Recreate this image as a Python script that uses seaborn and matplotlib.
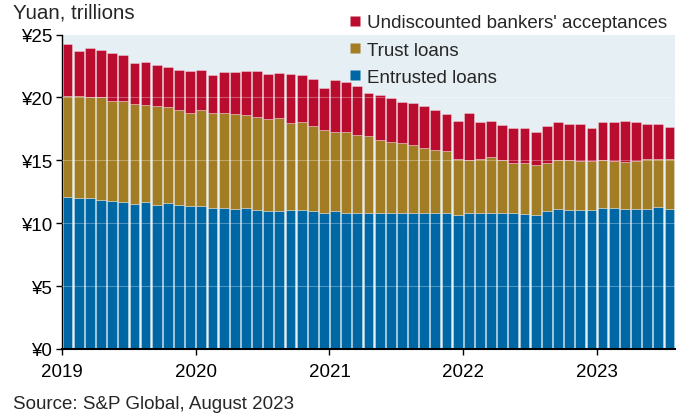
import numpy as np
import pandas as pd
import matplotlib
matplotlib.use("Agg")
import matplotlib.pyplot as plt
from matplotlib.lines import Line2D
import seaborn as sns

# ---- data (trillions of yuan), monthly Jan 2019 - Jul 2023 ----
entrusted = [12.12, 12.04, 12.03, 11.88, 11.80, 11.72, 11.56, 11.72, 11.48, 11.61, 11.43, 11.35,
             11.33, 11.24, 11.22, 11.11, 11.22, 11.06, 10.95, 10.95, 11.06, 11.06, 10.95, 10.79,
             10.95, 10.79, 10.79, 10.85, 10.85, 10.85, 10.85, 10.85, 10.85, 10.85, 10.85, 10.66,
             10.85, 10.85, 10.85, 10.82, 10.82, 10.77, 10.66, 10.98, 11.16, 11.08, 11.08, 11.08,
             11.24, 11.24, 11.16, 11.16, 11.16, 11.32, 11.16]
trust = [7.99, 8.07, 8.00, 8.12, 7.91, 7.99, 7.88, 7.65, 7.81, 7.60, 7.56, 7.41,
         7.64, 7.52, 7.54, 7.54, 7.38, 7.38, 7.33, 7.38, 6.90, 6.96, 6.75, 6.62,
         6.27, 6.43, 6.26, 6.08, 5.76, 5.63, 5.55, 5.37, 5.16, 5.00, 4.92, 4.47,
         4.18, 4.28, 4.39, 4.18, 3.99, 4.04, 4.00, 3.83, 3.89, 3.97, 3.89, 3.89,
         3.81, 3.73, 3.71, 3.81, 3.97, 3.81, 3.97]
undiscounted = [4.15, 3.59, 3.91, 3.78, 3.83, 3.67, 3.31, 3.46, 3.25, 3.22, 3.20, 3.35,
                3.22, 3.06, 3.28, 3.39, 3.52, 3.68, 3.60, 3.63, 3.92, 3.78, 3.78, 3.36,
                4.18, 4.02, 3.83, 3.39, 3.55, 3.44, 3.20, 3.30, 3.28, 3.12, 2.91, 2.99,
                3.73, 2.91, 2.88, 2.80, 2.75, 2.75, 2.59, 2.91, 2.97, 2.83, 2.91, 2.57,
                2.99, 3.07, 3.28, 3.05, 2.73, 2.73, 2.49]
series_names = ["Undiscounted bankers' acceptances", "Trust loans", "Entrusted loans"]
year_labels = ["2019", "2020", "2021", "2022", "2023"]
y_ticks = [0, 5, 10, 15, 20, 25]
y_labels = ["¥0", "¥5", "¥10", "¥15", "¥20", "¥25"]

colors = {"Undiscounted bankers' acceptances": "#BA0C2F",
          "Trust loans": "#A27D24",
          "Entrusted loans": "#0067A5"}

n = len(entrusted)
months = np.arange(n)
df = pd.concat([
    pd.DataFrame({"month": months, "series": series_names[0], "value": undiscounted}),
    pd.DataFrame({"month": months, "series": series_names[1], "value": trust}),
    pd.DataFrame({"month": months, "series": series_names[2], "value": entrusted}),
], ignore_index=True)

sns.set_theme(style="ticks")
plt.rcParams["font.family"] = ["Liberation Sans", "DejaVu Sans"]

fig = plt.figure(figsize=(6.79, 4.14), dpi=100)
ax = fig.add_axes([62 / 679, 1 - 350 / 414, (675 - 62) / 679, (350 - 35.5) / 414])
ax.set_facecolor("#E6EFF3")

sns.histplot(data=df, x="month", weights="value", hue="series", hue_order=series_names,
             multiple="stack", discrete=True, shrink=0.88, palette=colors,
             edgecolor="white", linewidth=0.5, alpha=1, legend=False, ax=ax)
for p in ax.patches:
    p.set_alpha(None)
    p.set_edgecolor((1, 1, 1, 0.45))

for yv in [5, 10, 15, 20]:
    ax.axhline(yv, color="white", alpha=0.3, lw=0.8, zorder=5)

ax.set_xlim(-0.5, n - 0.5)
ax.set_ylim(0, 25)
ax.set_xticks([-0.5 + 12 * i for i in range(len(year_labels))])
ax.set_xticklabels(year_labels, fontsize=13.5)
ax.set_yticks(y_ticks)
ax.set_yticklabels(y_labels, fontsize=13.5)
ax.set_xlabel("")
ax.set_ylabel("")
ax.tick_params(axis="both", direction="out", length=4, width=1, color="black",
               labelcolor="black")
ax.tick_params(axis="y", pad=3)
ax.tick_params(axis="x", pad=6)
for s in ["top", "right"]:
    ax.spines[s].set_visible(False)
for s in ["left", "bottom"]:
    ax.spines[s].set_color("black")
ax.spines["left"].set_linewidth(1.0)
ax.spines["bottom"].set_linewidth(1.5)

handles = [Line2D([], [], marker="s", linestyle="none", markersize=7.5,
                  markerfacecolor=colors[s], markeredgecolor="none") for s in series_names]
fig.legend(handles, series_names, loc="upper left", bbox_to_anchor=(349 / 679, 1 - 15 / 414),
           frameon=False, fontsize=13.5, handlelength=0.6, handletextpad=0.35,
           labelspacing=0.55, borderaxespad=0, borderpad=0)

fig.text(13 / 679, 1 - 18.5 / 414, "Yuan, trillions", fontsize=14.8, va="baseline", ha="left")
fig.text(13 / 679, 1 - 409 / 414, "Source: S&P Global, August 2023", fontsize=13.5,
         va="baseline", ha="left")

fig.savefig("out.png", dpi=100)
